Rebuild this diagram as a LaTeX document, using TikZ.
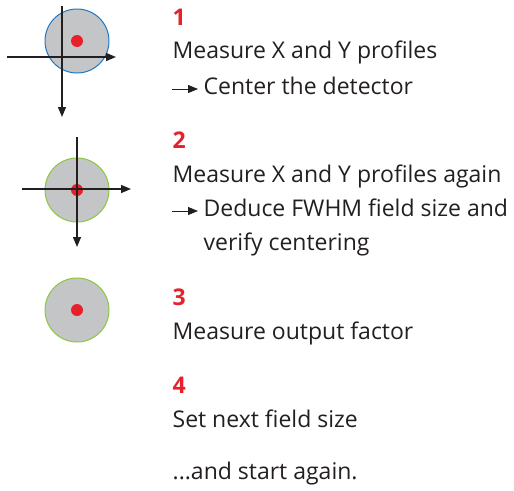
\documentclass[tikz,border=0pt]{standalone}
\usepackage{fontspec}
\setmainfont{Open Sans}
\usetikzlibrary{arrows.meta}
\definecolor{spotred}{HTML}{E8202A}
\definecolor{fieldgray}{HTML}{C4C5C7}
\definecolor{ringblue}{HTML}{1F78C1}
\definecolor{ringgreen}{HTML}{8CC63F}
\definecolor{inkgray}{HTML}{231F20}
\begin{document}
\begin{tikzpicture}[
        x = 1pt, y = -1pt,
        > = {Triangle[length = 10pt, width = 8pt]},
        line width = 0.45mm,
        field/.style = {circle, draw = #1, fill = fieldgray, line width = 0.35mm, minimum size = 64pt, inner sep = 0pt},
        spot/.style = {circle, fill = spotred, minimum size = 12pt, inner sep = 0pt},
        stepno/.style = {anchor = base west, inner sep = 0pt, text = spotred, font = \bfseries\fontsize{23}{27}\selectfont},
        steptext/.style = {anchor = base west, inner sep = 0pt, text = inkgray, font = \fontsize{23}{27}\selectfont},
        textarrow/.style = {->, > = {Triangle[length = 10pt, width = 8pt]}, line width = 0.35mm, draw = inkgray}
    ]
        \useasboundingbox (0,0) rectangle (514,490);
        % detector pictures
        \node[field = ringblue] (field1) at (77,41) {};
        \node[spot] (spot1) at (77,41) {};
        \draw[->, draw = inkgray] (62,6) -- (62,117);
        \draw[->, draw = inkgray] (7,57) -- (116,57);
        \node[field = ringgreen] (field2) at (77,190) {};
        \node[spot] (spot2) at (77,190) {};
        \draw[->, draw = inkgray] (77,137) -- (77,247);
        \draw[->, draw = inkgray] (22,189) -- (131,189);
        \node[field = ringgreen] (field3) at (77,310) {};
        \node[spot] (spot3) at (77,310) {};
        % steps
        \node[stepno] (no1) at (172,25) {1};
        \node[steptext] (text1a) at (172,58) {Measure X and Y profiles};
        \node[steptext] (text1b) at (203,94) {Center the detector};
        \draw[textarrow] (172,89) -- (198,89);
        \node[stepno] (no2) at (172,148) {2};
        \node[steptext] (text2a) at (172,182) {Measure X and Y profiles again};
        \node[steptext] (text2b) at (203,216) {Deduce FWHM field size and};
        \node[steptext] (text2c) at (203,250) {verify centering};
        \draw[textarrow] (172,211) -- (198,211);
        \node[stepno] (no3) at (172,305) {3};
        \node[steptext] (text3) at (172,339) {Measure output factor};
        \node[stepno] (no4) at (172,393) {4};
        \node[steptext] (text4) at (172,427) {Set next field size};
        \node[steptext] (again) at (172,479) {...and start again.};
    \end{tikzpicture}
\end{document}
